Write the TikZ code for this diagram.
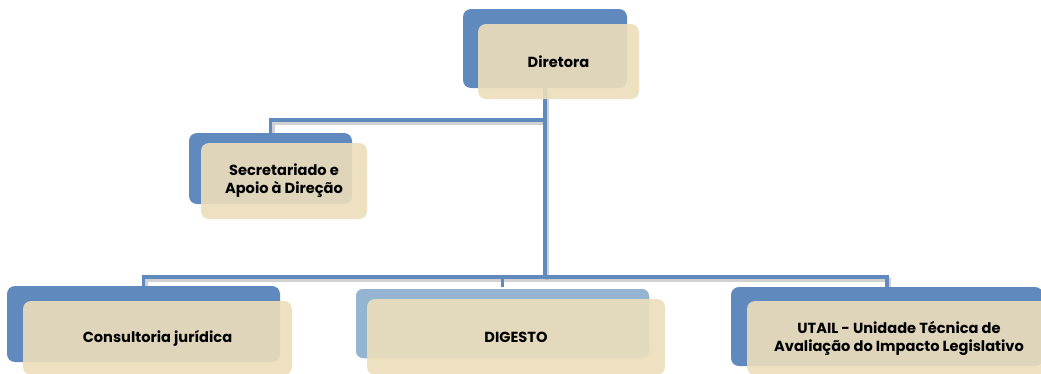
\documentclass[tikz,border=0pt]{standalone}
\usepackage{fontspec}
\setmainfont{Poppins}
\usetikzlibrary{backgrounds}
\definecolor{boxblue}{RGB}{96,137,190}
\definecolor{paleblue}{RGB}{148,180,210}
\definecolor{sand}{RGB}{236,222,186}

\begin{document}
\begin{tikzpicture}[x=1pt,y=-1pt]
\tikzstyle{back}=[rectangle,rounded corners=8pt,fill=boxblue,inner sep=0pt]
\tikzstyle{front}=[rectangle,rounded corners=8pt,fill=sand,fill opacity=0.9,text opacity=1,inner sep=0pt,align=center,font=\bfseries\fontsize{14.6}{18}\selectfont]
\tikzstyle{link}=[draw=boxblue,line width=3.5pt]
\tikzstyle{shade}=[draw=black!40,line width=4pt,opacity=0.45,transform canvas={shift={(2pt,-3pt)}}]
\useasboundingbox (0,0) rectangle (1041,373);
% back boxes
\node [back,minimum width=164,minimum height=79] (dir) at (545,48.5) {};
\node [back,minimum width=163,minimum height=71] (sec) at (270.5,168.5) {};
\node [back,minimum width=273,minimum height=76] (cons) at (143.5,324) {};
\node [back,fill=paleblue,draw=white,line width=1.5pt,minimum width=295,minimum height=71] (dig) at (502.5,323.5) {};
\node [back,minimum width=312,minimum height=79] (utail) at (887,326.5) {};
% front boxes
\node [front,minimum width=161,minimum height=75] (dirT) at (558.5,61.5) {Diretora};
\node [front,minimum width=166,minimum height=76] (secT) at (284,181) {Secretariado e\\Apoio à Direção};
\node [front,minimum width=269,minimum height=74] (consT) at (157.5,338) {Consultoria jurídica};
\node [front,minimum width=298,minimum height=76] (digT) at (516,337) {DIGESTO};
\node [front,minimum width=304,minimum height=74] (utailT) at (899,338) {UTAIL - Unidade Técnica de\\Avaliação do Impacto Legislativo};
% connectors
\coordinate (fork) at (545,120);
\coordinate (bus) at (545,277);
\begin{scope}[on background layer]
\draw [shade] (dir.south) -- (bus);
\draw [shade] (fork) -| (sec.north);
\draw [shade] (cons.north) |- (bus) -| (utail.north);
\draw [link] (dir.south) -- (bus);
\draw [link] (fork) -| (sec.north);
\draw [link] (cons.north) |- (bus) -| (utail.north);
\draw [link] (dig.north) -- (dig.north |- bus);
\end{scope}
\end{tikzpicture}
\end{document}
